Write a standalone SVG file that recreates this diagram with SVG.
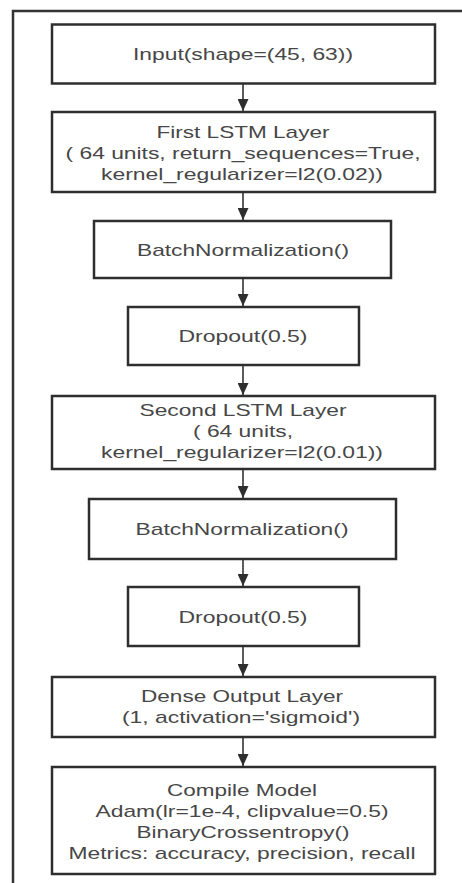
<svg xmlns="http://www.w3.org/2000/svg" width="462" height="883" viewBox="0 0 462 883">
<style>
.box{fill:#ffffff;stroke:#2e2e2e;stroke-width:2.5}
.lbl{font-family:"Liberation Sans",Arial,sans-serif;font-size:17px;fill:#474747;text-anchor:middle}
.edge{stroke:#333333;stroke-width:1.6;fill:none;marker-end:url(#arrow)}
.frame{stroke:#333333;stroke-width:2.5;fill:none}
</style>
<defs>
<marker id="arrow" markerUnits="userSpaceOnUse" markerWidth="13" markerHeight="11" refX="12" refY="5.5" orient="auto">
<path d="M0,0 L12,5.5 L0,11 Z" fill="#2e2e2e"/>
</marker>
</defs>
<rect x="0" y="0" width="462" height="883" fill="#ffffff"/>
<path class="frame" d="M13,883 L13,11 L462,11"/>
<g id="connectors">
<line class="edge" x1="243" y1="83.5" x2="243" y2="111"/>
<line class="edge" x1="243" y1="192" x2="243" y2="220"/>
<line class="edge" x1="243" y1="278" x2="243" y2="306"/>
<line class="edge" x1="243" y1="365" x2="243" y2="395"/>
<line class="edge" x1="243" y1="469" x2="243" y2="498"/>
<line class="edge" x1="243" y1="559" x2="243" y2="586"/>
<line class="edge" x1="243" y1="646" x2="243" y2="676"/>
<line class="edge" x1="243" y1="737" x2="243" y2="766"/>
</g>
<g id="input">
<rect class="box" x="52" y="24.5" width="383" height="59"/>
<text class="lbl" x="243" y="60" textLength="220" lengthAdjust="spacingAndGlyphs">Input(shape=(45, 63))</text>
</g>
<g id="lstm1">
<rect class="box" x="52" y="112" width="383" height="80"/>
<text class="lbl" x="243" y="138" textLength="173" lengthAdjust="spacingAndGlyphs">First LSTM Layer</text>
<text class="lbl" x="243" y="159" textLength="355" lengthAdjust="spacingAndGlyphs">( 64 units, return_sequences=True,</text>
<text class="lbl" x="242" y="180" textLength="282" lengthAdjust="spacingAndGlyphs">kernel_regularizer=l2(0.02))</text>
</g>
<g id="bn1">
<rect class="box" x="94" y="221" width="297" height="57"/>
<text class="lbl" x="243" y="255.5" textLength="212" lengthAdjust="spacingAndGlyphs">BatchNormalization()</text>
</g>
<g id="dropout1">
<rect class="box" x="128" y="307" width="231" height="58"/>
<text class="lbl" x="243" y="342" textLength="129" lengthAdjust="spacingAndGlyphs">Dropout(0.5)</text>
</g>
<g id="lstm2">
<rect class="box" x="52" y="396" width="383" height="73"/>
<text class="lbl" x="243" y="416" textLength="207" lengthAdjust="spacingAndGlyphs">Second LSTM Layer</text>
<text class="lbl" x="243" y="437" textLength="100" lengthAdjust="spacingAndGlyphs">( 64 units,</text>
<text class="lbl" x="242" y="458" textLength="282" lengthAdjust="spacingAndGlyphs">kernel_regularizer=l2(0.01))</text>
</g>
<g id="bn2">
<rect class="box" x="89" y="499" width="307" height="60"/>
<text class="lbl" x="242" y="535" textLength="213" lengthAdjust="spacingAndGlyphs">BatchNormalization()</text>
</g>
<g id="dropout2">
<rect class="box" x="128" y="587" width="231" height="59"/>
<text class="lbl" x="243" y="622.5" textLength="129" lengthAdjust="spacingAndGlyphs">Dropout(0.5)</text>
</g>
<g id="dense">
<rect class="box" x="52" y="677" width="383" height="60"/>
<text class="lbl" x="242" y="702" textLength="202" lengthAdjust="spacingAndGlyphs">Dense Output Layer</text>
<text class="lbl" x="241" y="723" textLength="238" lengthAdjust="spacingAndGlyphs">(1, activation='sigmoid')</text>
</g>
<g id="compile">
<rect class="box" x="52" y="767" width="383" height="107"/>
<text class="lbl" x="242" y="796" textLength="150" lengthAdjust="spacingAndGlyphs">Compile Model</text>
<text class="lbl" x="242" y="817" textLength="293" lengthAdjust="spacingAndGlyphs">Adam(lr=1e-4, clipvalue=0.5)</text>
<text class="lbl" x="243" y="838" textLength="213" lengthAdjust="spacingAndGlyphs">BinaryCrossentropy()</text>
<text class="lbl" x="242" y="859" textLength="347" lengthAdjust="spacingAndGlyphs">Metrics: accuracy, precision, recall</text>
</g>
</svg>
